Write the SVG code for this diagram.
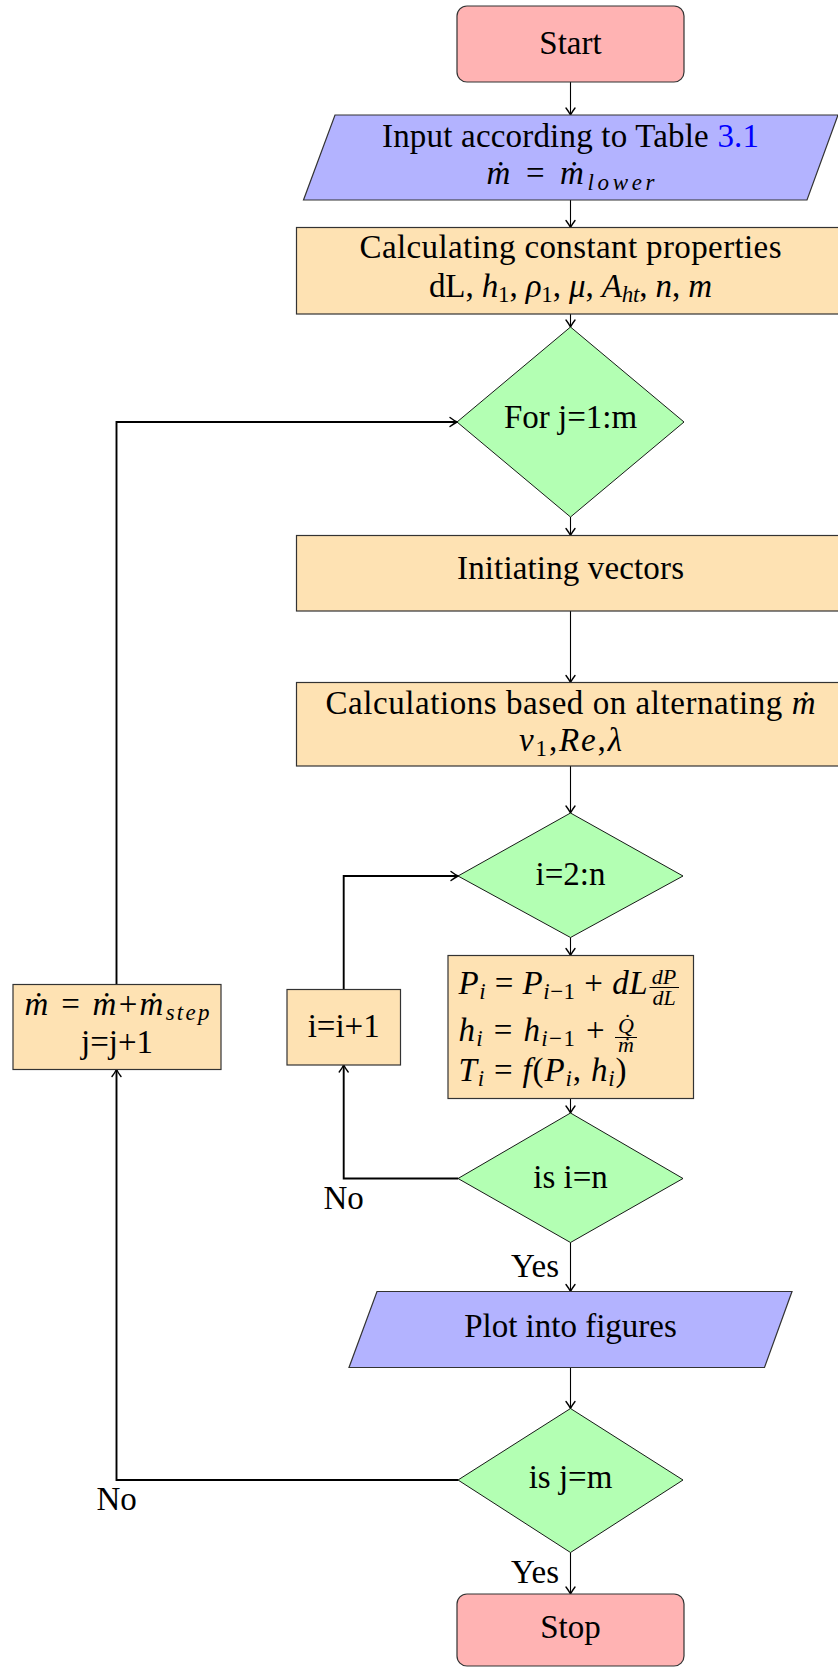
<svg xmlns="http://www.w3.org/2000/svg" width="838" height="1667" viewBox="0 0 838 1667">
<style>
text{font-family:"Liberation Serif","DejaVu Serif",serif;font-size:33px;fill:#000}
.c{text-anchor:middle}
.it{font-style:italic}
.sb{font-size:23px}
.fr{font-size:22px;font-style:italic;text-anchor:middle}
.term{fill:#ffb3b3;stroke:#333;stroke-width:1.2}
.io{fill:#b3b3ff;stroke:#333;stroke-width:1.2}
.proc{fill:#fee2b3;stroke:#333;stroke-width:1.2}
.dec{fill:#b3ffb3;stroke:#000;stroke-width:0.9}
.ln{fill:none;stroke:#000;stroke-width:1.1}
.lk{fill:none;stroke:#000;stroke-width:1.9}
.bar{stroke:#000;stroke-width:1}
</style>
<defs>
<marker id="arr" viewBox="-10 -6 12 12" refX="0" refY="0" markerWidth="12" markerHeight="12" orient="auto" markerUnits="userSpaceOnUse">
<path d="M -7 -4.5 C -4 -2.2 -1.2 -0.6 0 0 C -1.2 0.6 -4 2.2 -7 4.5" fill="none" stroke="#000" stroke-width="1.4" stroke-linecap="round"/>
</marker>
</defs>

<g id="connectors">
<line class="ln" x1="570.5" y1="82" x2="570.5" y2="115" marker-end="url(#arr)"/>
<line class="ln" x1="570.5" y1="200" x2="570.5" y2="227.5" marker-end="url(#arr)"/>
<line class="ln" x1="570.5" y1="314" x2="570.5" y2="327" marker-end="url(#arr)"/>
<line class="ln" x1="570.5" y1="517" x2="570.5" y2="535.5" marker-end="url(#arr)"/>
<line class="ln" x1="570.5" y1="611" x2="570.5" y2="682.5" marker-end="url(#arr)"/>
<line class="ln" x1="570.5" y1="766" x2="570.5" y2="813" marker-end="url(#arr)"/>
<line class="ln" x1="570.5" y1="937.5" x2="570.5" y2="955.5" marker-end="url(#arr)"/>
<line class="ln" x1="570.5" y1="1098.5" x2="570.5" y2="1113" marker-end="url(#arr)"/>
<line class="ln" x1="570.5" y1="1242.5" x2="570.5" y2="1291.5" marker-end="url(#arr)"/>
<line class="ln" x1="570.5" y1="1367.5" x2="570.5" y2="1408.5" marker-end="url(#arr)"/>
<line class="ln" x1="570.5" y1="1552.5" x2="570.5" y2="1594" marker-end="url(#arr)"/>
<polyline class="lk" points="458,1178.5 343.7,1178.5 343.7,1065" marker-end="url(#arr)"/>
<polyline class="lk" points="343.7,989.5 343.7,876 458,876" marker-end="url(#arr)"/>
<polyline class="lk" points="458,1480 116.5,1480 116.5,1069.5" marker-end="url(#arr)"/>
<polyline class="lk" points="116.5,984.5 116.5,422 457,422" marker-end="url(#arr)"/>
<text class="c" x="343.6" y="1209">No</text>
<text x="559" y="1276.5" text-anchor="end">Yes</text>
<text class="c" x="116.7" y="1510">No</text>
<text x="559" y="1583.3" text-anchor="end">Yes</text>
</g>

<g id="start">
<rect class="term" x="457" y="6" width="227" height="76" rx="10"/>
<text class="c" x="570.5" y="54">Start</text>
</g>

<g id="input">
<polygon class="io" points="335,115 838,115 807,200 303.5,200"/>
<text class="c" x="570.5" y="146.5" textLength="377">Input according to Table <tspan fill="#0000ff">3.1</tspan></text>
<text class="c" x="570.5" y="184" textLength="168"><tspan class="it">ṁ</tspan> = <tspan class="it">ṁ</tspan><tspan class="it sb" dy="6">lower</tspan></text>
</g>

<g id="constants">
<rect class="proc" x="296.5" y="227.5" width="548" height="86.5"/>
<text class="c" x="570.5" y="258.3" textLength="422">Calculating constant properties</text>
<text class="c" x="570.5" y="296.7" textLength="283">dL, <tspan class="it">h</tspan><tspan class="sb" dy="5">1</tspan><tspan dy="-5">, </tspan><tspan class="it">ρ</tspan><tspan class="sb" dy="5">1</tspan><tspan dy="-5">, </tspan><tspan class="it">μ</tspan>, <tspan class="it">A</tspan><tspan class="it sb" dy="5">ht</tspan><tspan dy="-5">, </tspan><tspan class="it">n</tspan>, <tspan class="it">m</tspan></text>
</g>

<g id="forj">
<polygon class="dec" points="570.5,327 684,422 570.5,517 457,422"/>
<text class="c" x="570.5" y="428.3">For j=1:m</text>
</g>

<g id="init">
<rect class="proc" x="296.5" y="535.5" width="548" height="75.5"/>
<text class="c" x="570.5" y="579.3" textLength="227">Initiating vectors</text>
</g>

<g id="calcs">
<rect class="proc" x="296.5" y="682.5" width="548" height="83.5"/>
<text class="c" x="570.5" y="714" textLength="490">Calculations based on alternating <tspan class="it">ṁ</tspan></text>
<text class="c" x="570.5" y="750.5" textLength="103"><tspan class="it">v</tspan><tspan class="sb" dy="5">1</tspan><tspan dy="-5">,</tspan><tspan class="it">Re</tspan>,<tspan class="it">λ</tspan></text>
</g>

<g id="fori">
<polygon class="dec" points="570.5,813 683,876 570.5,937.5 458,876"/>
<text class="c" x="570.5" y="885">i=2:n</text>
</g>

<g id="update">
<rect class="proc" x="448" y="955.5" width="245.5" height="143"/>
<text x="458.5" y="994" textLength="189"><tspan class="it">P</tspan><tspan class="it sb" dy="5">i</tspan><tspan dy="-5"> = </tspan><tspan class="it">P</tspan><tspan class="sb" dy="5"><tspan class="it">i</tspan>−1</tspan><tspan dy="-5"> + </tspan><tspan class="it">dL</tspan></text>
<text class="fr" x="664" y="984.3">dP</text>
<line class="bar" x1="649.5" y1="987.5" x2="679" y2="987.5"/>
<text class="fr" x="664" y="1005">dL</text>
<text x="458.5" y="1040.7" textLength="146"><tspan class="it">h</tspan><tspan class="it sb" dy="5">i</tspan><tspan dy="-5"> = </tspan><tspan class="it">h</tspan><tspan class="sb" dy="5"><tspan class="it">i</tspan>−1</tspan><tspan dy="-5"> +</tspan></text>
<text class="fr" x="626" y="1033">Q̇</text>
<line class="bar" x1="615" y1="1037.5" x2="637" y2="1037.5"/>
<text class="fr" x="626" y="1051.5">ṁ</text>
<text x="458.5" y="1081" textLength="168"><tspan class="it">T</tspan><tspan class="it sb" dy="5">i</tspan><tspan dy="-5"> = </tspan><tspan class="it">f</tspan>(<tspan class="it">P</tspan><tspan class="it sb" dy="5">i</tspan><tspan dy="-5">, </tspan><tspan class="it">h</tspan><tspan class="it sb" dy="5">i</tspan><tspan dy="-5">)</tspan></text>
</g>

<g id="inci">
<rect class="proc" x="287" y="989.5" width="113.5" height="75.5"/>
<text class="c" x="343.7" y="1036.7">i=i+1</text>
</g>

<g id="isin">
<polygon class="dec" points="570.5,1113 683,1178.5 570.5,1242.5 458,1178.5"/>
<text class="c" x="570.5" y="1188.3">is i=n</text>
</g>

<g id="incj">
<rect class="proc" x="13" y="984.5" width="208" height="85"/>
<text class="c" x="117" y="1015" textLength="185"><tspan class="it">ṁ</tspan> = <tspan class="it">ṁ</tspan>+<tspan class="it">ṁ</tspan><tspan class="it sb" dy="5">step</tspan></text>
<text class="c" x="117" y="1052.7">j=j+1</text>
</g>

<g id="plot">
<polygon class="io" points="377,1291.5 792,1291.5 764.5,1367.5 349,1367.5"/>
<text class="c" x="570.5" y="1336.7">Plot into figures</text>
</g>

<g id="isjm">
<polygon class="dec" points="570.5,1408.5 683,1480 570.5,1552.5 458,1480"/>
<text class="c" x="570.5" y="1488.3">is j=m</text>
</g>

<g id="stop">
<rect class="term" x="457" y="1594" width="227" height="72" rx="10"/>
<text class="c" x="570.5" y="1638.3">Stop</text>
</g>
</svg>
